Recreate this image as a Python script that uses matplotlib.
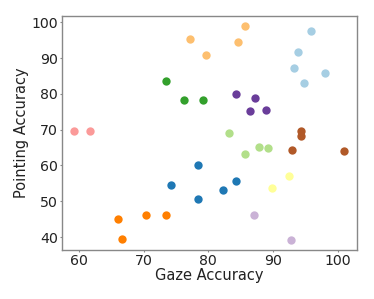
import matplotlib
matplotlib.use("Agg")
import matplotlib.pyplot as plt

paired = plt.get_cmap("Paired").colors

group_colors = [0, 1, 2, 3, 4, 6, 7, 8, 9, 10, 11]
gaze_x = [
    [93.2, 93.9, 94.8, 95.9, 98.1],
    [74.3, 78.4, 78.4, 82.3, 84.3],
    [83.2, 85.6, 87.9, 89.2],
    [73.5, 76.2, 79.2],
    [59.2, 61.7],
    [77.1, 79.6, 84.6, 85.7],
    [66.1, 66.7, 70.4, 73.5],
    [87.1, 92.7],
    [84.2, 86.4, 87.2, 88.9],
    [89.8, 92.5],
    [93.0, 94.35, 94.35, 100.9],
]
point_y = [
    [87.3, 91.7, 83.0, 97.5, 85.7],
    [54.5, 60.1, 50.6, 53.2, 55.7],
    [69.1, 63.2, 65.1, 65.0],
    [83.5, 78.2, 78.4],
    [69.5, 69.7],
    [95.4, 90.8, 94.4, 99.0],
    [45.0, 39.6, 46.1, 46.3],
    [46.3, 39.2],
    [79.9, 75.1, 78.8, 75.4],
    [53.8, 57.1],
    [64.4, 69.5, 68.3, 64.1],
]
x_ticks = [60, 70, 80, 90, 100]
y_ticks = [40, 50, 60, 70, 80, 90, 100]

fig = plt.figure(figsize=(3.74, 2.99), dpi=100)
ax = fig.add_axes([0.166, 0.164, 0.789, 0.782])
for ci, xs, ys in zip(group_colors, gaze_x, point_y):
    ax.scatter(xs, ys, color=paired[ci], s=36, linewidths=0, zorder=3)

ax.set_xlim(57.4, 103.0)
ax.set_ylim(36.4, 101.7)
ax.set_xticks(x_ticks)
ax.set_yticks(y_ticks)
ax.tick_params(length=1.5, width=0.8, color="#888888", labelsize=10.2, pad=1.5,
               labelcolor="#222222")
for sp in ax.spines.values():
    sp.set_color("#888888")
    sp.set_linewidth(1.0)
ax.set_xlabel("Gaze Accuracy", fontsize=10.5, labelpad=0, color="#222222")
ax.set_ylabel("Pointing Accuracy", fontsize=10.5, labelpad=1.5, color="#222222")
fig.savefig("out.png", dpi=100)
